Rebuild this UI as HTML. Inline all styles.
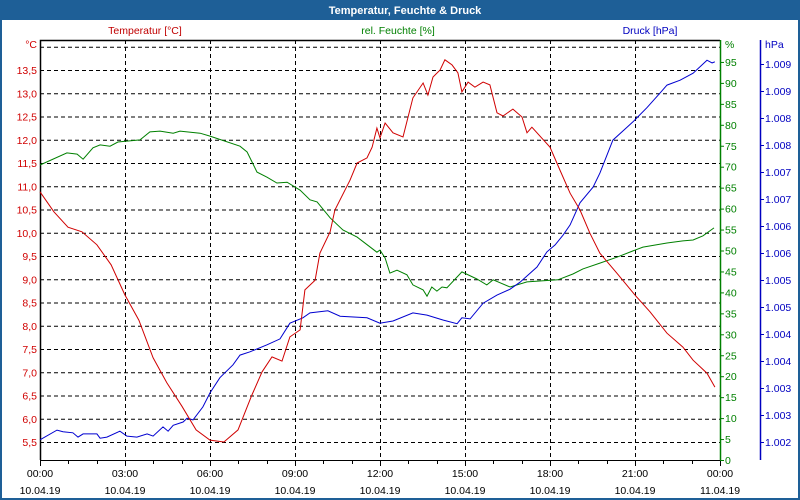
<!DOCTYPE html>
<html><head><meta charset="utf-8"><style>
html,body{margin:0;padding:0;background:#fff}
svg{display:block;font-family:"Liberation Sans",sans-serif;font-size:10.5px}
</style></head><body>
<svg id="chart" width="800" height="500">
<rect x="0" y="0" width="800" height="500" fill="#fff"/>
<rect x="0" y="0" width="800" height="20" fill="#1e5f97"/>
<text x="405" y="14" fill="#fff" font-weight="bold" font-size="11" text-anchor="middle">Temperatur, Feuchte &amp; Druck</text>
<rect x="1" y="1" width="798" height="498" fill="none" stroke="#1e5f97" stroke-width="2"/>
<text x="145" y="34" fill="#c00000" text-anchor="middle">Temperatur [°C]</text>
<text x="398" y="34" fill="#008000" text-anchor="middle">rel. Feuchte [%]</text>
<text x="650" y="34" fill="#0000c0" text-anchor="middle">Druck [hPa]</text>
<g id="grid"></g><g id="axes"></g><g id="series"></g>
</svg>
<script>
const tempTimes=[0,0.49,0.99,1.48,2.01,2.51,3.0,3.49,3.99,4.48,5.01,5.51,6.0,6.49,6.99,7.48,7.84,8.19,8.54,8.82,9.18,9.35,9.71,9.88,10.24,10.41,10.94,11.19,11.54,11.72,11.89,12.0,12.18,12.46,12.81,13.16,13.52,13.69,13.87,14.12,14.29,14.54,14.75,14.89,15.11,15.35,15.64,15.88,16.13,16.34,16.69,17.01,17.19,17.36,18.0,18.35,18.71,19.06,19.41,19.76,20.36,21.0,21.53,22.13,22.69,23.05,23.54,23.82];
const tempValues=[10.88,10.45,10.12,10.02,9.74,9.31,8.66,8.12,7.31,6.77,6.27,5.76,5.54,5.5,5.76,6.51,7.01,7.33,7.24,7.76,7.91,8.77,8.98,9.56,10.02,10.49,11.13,11.5,11.61,11.84,12.25,12.04,12.36,12.15,12.06,12.9,13.22,12.96,13.35,13.5,13.72,13.61,13.44,13.03,13.24,13.13,13.24,13.18,12.58,12.51,12.66,12.49,12.15,12.27,11.84,11.35,10.85,10.49,9.99,9.56,9.13,8.66,8.3,7.84,7.54,7.26,6.98,6.68];
const humTimes=[0,0.95,1.31,1.52,1.87,2.12,2.47,2.75,3.53,3.88,4.24,4.7,4.94,5.65,6.0,7.06,7.31,7.66,8.01,8.36,8.72,9.18,9.53,9.78,10.24,10.69,11.19,11.89,12.0,12.18,12.35,12.6,12.95,13.16,13.52,13.66,13.83,14.01,14.19,14.36,14.89,15.42,15.77,15.99,16.59,17.19,18.28,18.81,19.16,19.76,20.36,20.93,21.28,22.13,22.69,23.05,23.4,23.79];
const humValues=[70.4,73.3,73.0,71.8,74.5,75.2,74.9,75.9,76.4,78.3,78.5,78.0,78.5,78.0,77.3,74.9,73.5,68.7,67.5,66.1,66.3,64.4,62.1,61.6,57.8,54.9,53.2,49.6,50.1,48.2,44.6,45.3,44.2,41.8,40.6,39.1,41.3,40.3,41.3,41.1,44.9,43.2,41.8,43.0,41.3,42.5,43.0,44.4,45.6,47.0,48.4,49.9,50.8,51.8,52.3,52.5,53.5,55.4];
const presTimes=[0,0.6,0.81,1.16,1.34,1.52,2.01,2.12,2.36,2.82,3.07,3.42,3.78,3.99,4.34,4.52,4.7,5.05,5.19,5.4,5.75,6.0,6.35,6.81,7.06,7.41,8.01,8.47,8.82,9.28,9.53,10.16,10.59,11.54,12.0,12.46,13.16,13.66,14.22,14.72,14.89,15.18,15.64,16.13,16.59,16.94,17.54,17.89,18.18,18.46,18.71,19.06,19.52,19.76,20.22,20.93,21.42,21.88,22.13,22.59,23.05,23.54,23.72,23.82];
const presValues=[1002.04,1002.22,1002.19,1002.17,1002.09,1002.15,1002.15,1002.07,1002.09,1002.2,1002.11,1002.09,1002.15,1002.11,1002.28,1002.2,1002.31,1002.37,1002.44,1002.41,1002.65,1002.91,1003.19,1003.43,1003.61,1003.67,1003.8,1003.91,1004.2,1004.3,1004.39,1004.43,1004.33,1004.3,1004.2,1004.24,1004.39,1004.35,1004.26,1004.19,1004.3,1004.28,1004.57,1004.72,1004.83,1004.96,1005.24,1005.52,1005.65,1005.83,1006.02,1006.43,1006.72,1006.98,1007.59,1007.93,1008.19,1008.46,1008.61,1008.7,1008.83,1009.07,1009.02,1009.04];
const tempTicks=[5.5,6.0,6.5,7.0,7.5,8.0,8.5,9.0,9.5,10.0,10.5,11.0,11.5,12.0,12.5,13.0,13.5];
const humTicks=[0,5,10,15,20,25,30,35,40,45,50,55,60,65,70,75,80,85,90,95];
const presTicks=[1002.0,1002.5,1003.0,1003.5,1004.0,1004.5,1005.0,1005.5,1006.0,1006.5,1007.0,1007.5,1008.0,1008.5,1009.0];
const presTickLabels=["1.002","1.003","1.003","1.004","1.004","1.005","1.005","1.006","1.006","1.007","1.007","1.008","1.008","1.009","1.009"];
const timeTicks=[0,3,6,9,12,15,18,21,24];
const timeLabels=["00:00","03:00","06:00","09:00","12:00","15:00","18:00","21:00","00:00"];
const dateLabels=["10.04.19","10.04.19","10.04.19","10.04.19","10.04.19","10.04.19","10.04.19","10.04.19","11.04.19"];

const X=t=>40+t*85/3;
const yT=v=>70+(13.5-v)*46.5;
const yH=v=>460-v*4.19;
const yP=v=>442-(v-1002)*54;
const NS='http://www.w3.org/2000/svg';
function mk(tag,attrs,parent,txt){const e=document.createElementNS(NS,tag);for(const k in attrs)e.setAttribute(k,attrs[k]);if(txt!==undefined)e.textContent=txt;parent.appendChild(e);return e;}
const grid=document.getElementById('grid'),axes=document.getElementById('axes'),series=document.getElementById('series');
const dash={stroke:'#000','stroke-width':1,'stroke-dasharray':'4,3'};
[...tempTicks,14.0].forEach(v=>{const l=mk('line',Object.assign({x1:40,x2:720,y1:yT(v)+0.5,y2:yT(v)+0.5},dash),grid);

});
timeTicks.slice(1,8).forEach(t=>{const l=mk('line',Object.assign({x1:Math.round(X(t))+0.5,x2:Math.round(X(t))+0.5,y1:40,y2:460},dash),grid);

});
// frame
const fr=mk('path',{d:'M40.5 460 V40.5 H720',stroke:'#000','stroke-width':1.5,fill:'none'},axes);


const xa=mk('line',{x1:40,x2:720,y1:460.5,y2:460.5,stroke:'#000'},axes);


for(let h=0;h<=24;h++){const x=Math.round(X(h))+0.5;const l=mk('line',{x1:x,x2:x,y1:460,y2:h%3===0?466:464,stroke:'#000'},axes);

}
timeTicks.forEach((t,i)=>{const a=mk('text',{x:X(t),y:477,'text-anchor':'middle',fill:'#000'},axes,timeLabels[i]);


const b=mk('text',{x:X(t),y:494,'text-anchor':'middle',fill:'#000'},axes,dateLabels[i]);

});
// left axis labels
tempTicks.forEach(v=>{const e=mk('text',{x:37,y:yT(v)+4,'text-anchor':'end',fill:'#d00000'},axes,v.toFixed(1).replace('.',','));

});
const tu=mk('text',{x:37,y:48,'text-anchor':'end',fill:'#d00000'},axes,'°C');


// humidity axis
const ha=mk('line',{x1:720.5,x2:720.5,y1:40,y2:460,stroke:'#008000','stroke-width':1.5},axes);


humTicks.forEach(v=>{const l=mk('line',{x1:720,x2:724,y1:yH(v)+0.5,y2:yH(v)+0.5,stroke:'#008000'},axes);


const e=mk('text',{x:725,y:yH(v)+4,fill:'#008000'},axes,String(v));

});
const hu=mk('text',{x:725,y:48,fill:'#008000'},axes,'%');


// pressure axis
const pa=mk('line',{x1:760.5,x2:760.5,y1:40,y2:460,stroke:'#0000c0','stroke-width':1.5},axes);


presTicks.forEach((v,i)=>{const l=mk('line',{x1:760,x2:764,y1:yP(v)+0.5,y2:yP(v)+0.5,stroke:'#0000c0'},axes);


const e=mk('text',{x:765,y:yP(v)+4,fill:'#0000c0'},axes,presTickLabels[i]);

});
const pu=mk('text',{x:765,y:48,fill:'#0000c0'},axes,'hPa');


function line(ts,vs,yf,col){return ts.map((t,i)=>(i?'L':'M')+X(t).toFixed(1)+' '+yf(vs[i]).toFixed(1)).join(' ');}
const hl=mk('path',{d:line(humTimes,humValues,yH),stroke:'#008000',fill:'none','stroke-width':1},series);


const pl=mk('path',{d:line(presTimes,presValues,yP),stroke:'#0000d0',fill:'none','stroke-width':1},series);


const tl=mk('path',{d:line(tempTimes,tempValues,yT),stroke:'#d00000',fill:'none','stroke-width':1},series);


</script>
</body></html>
